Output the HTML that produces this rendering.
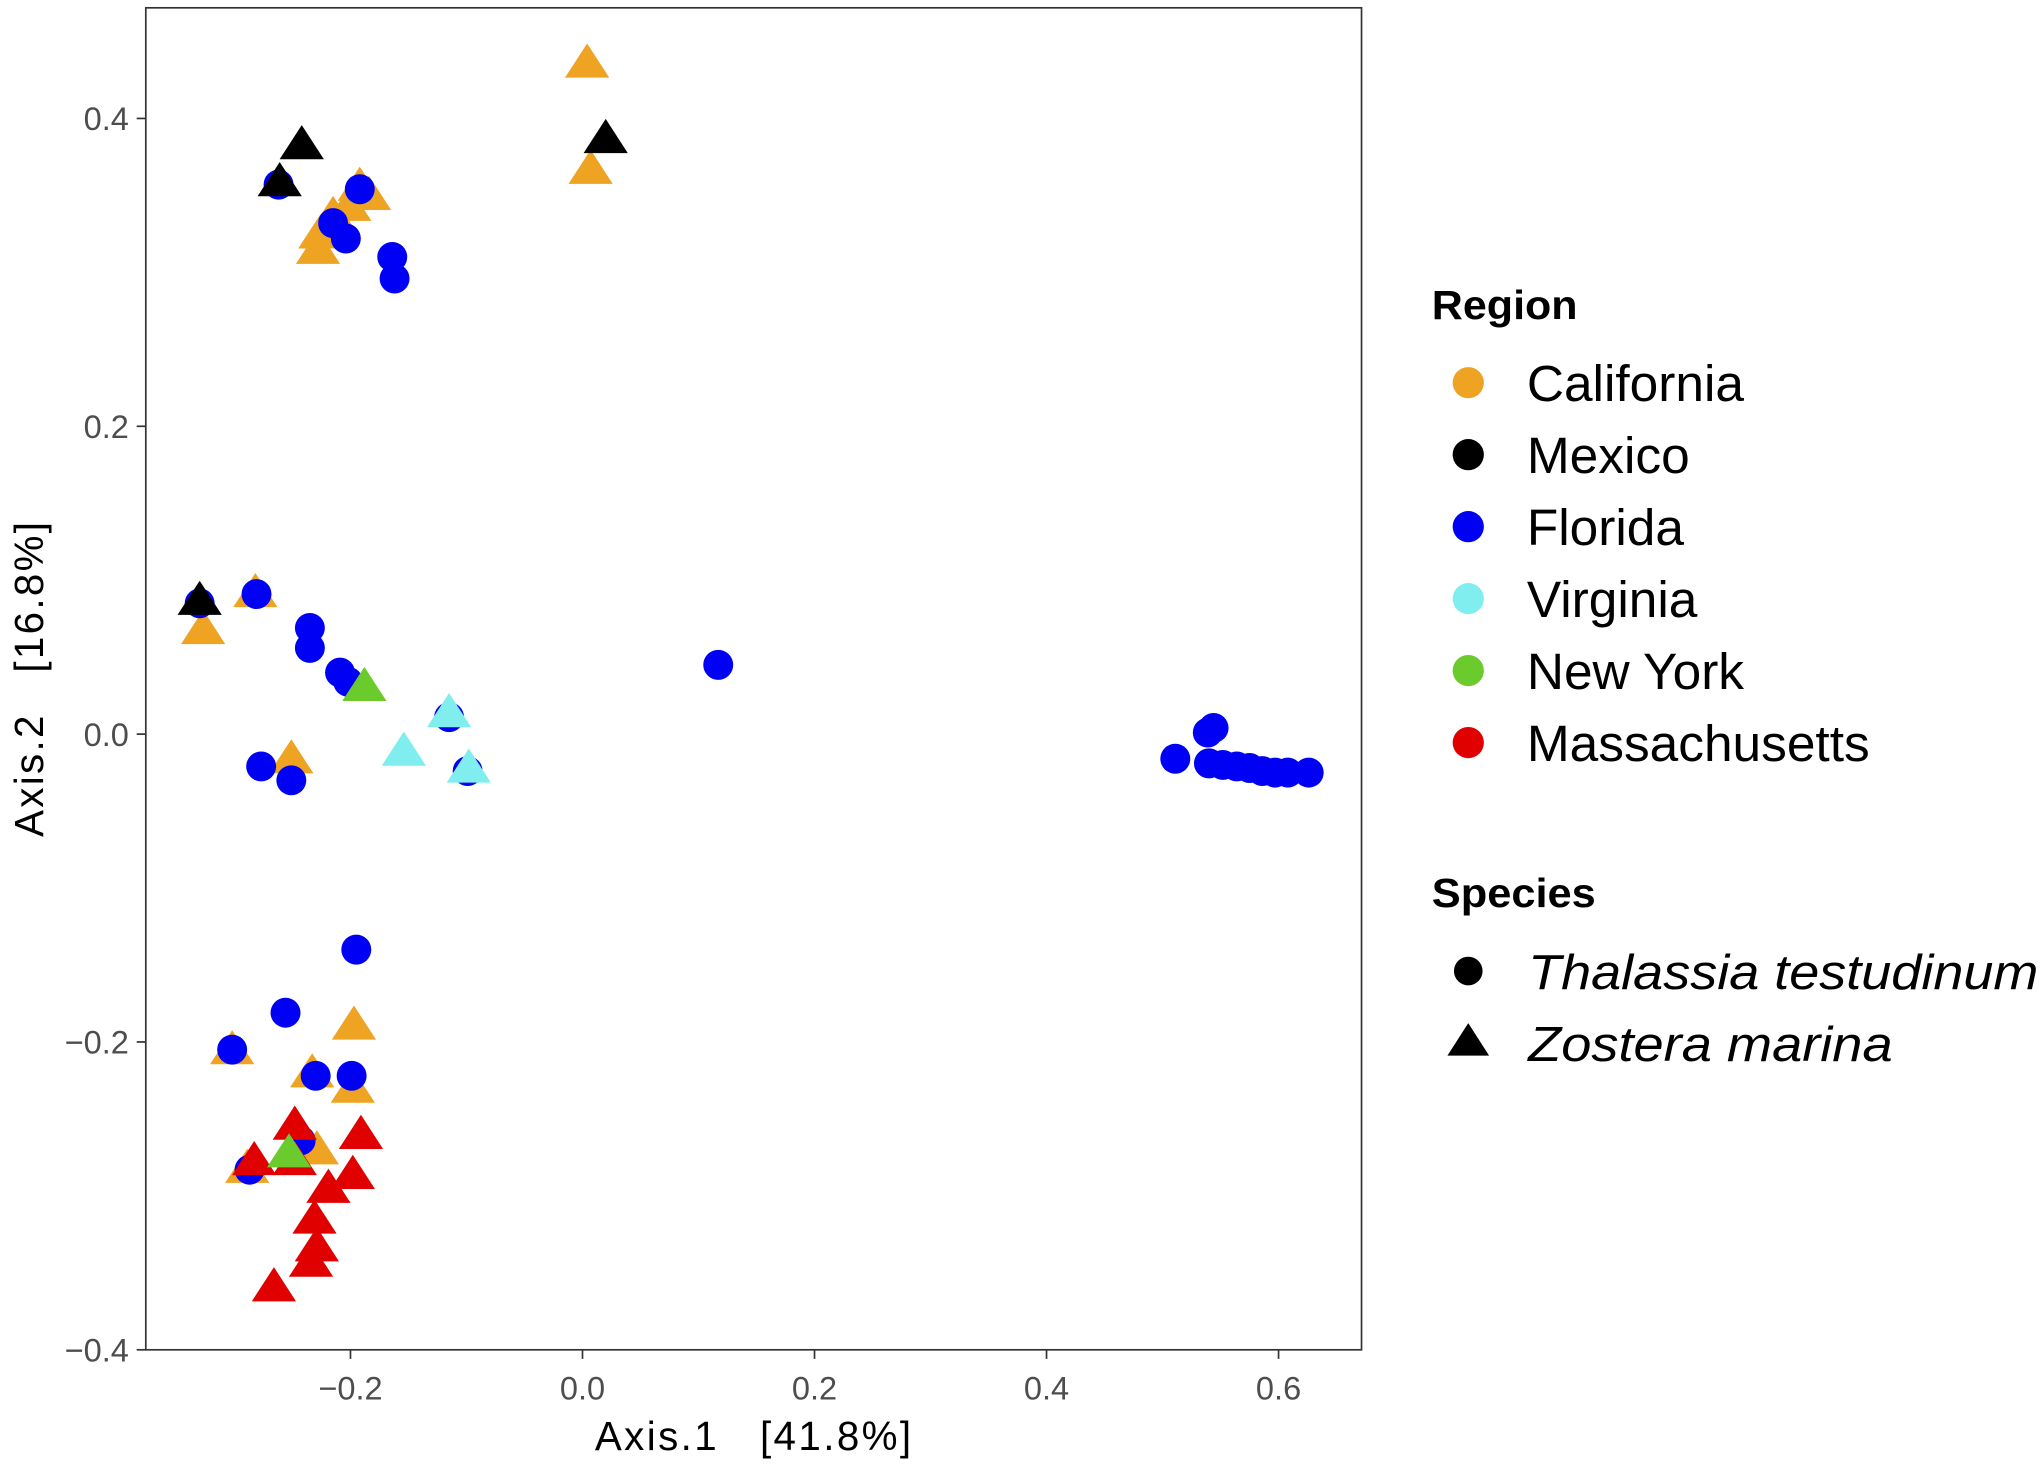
<!DOCTYPE html>
<html><head><meta charset="utf-8"><style>
html,body{margin:0;padding:0;background:#fff}
svg{display:block}
text{font-family:"Liberation Sans",sans-serif}
</style></head><body>
<svg id="chart" width="2041" height="1465" viewBox="0 0 1568 1125.5" xmlns="http://www.w3.org/2000/svg">
<rect x="112" y="6" width="934" height="1031" fill="#fff" stroke="#333" stroke-width="1.3"/>
<g id="marks"></g>
<g id="axes"></g>
<text x="457" y="1114" font-size="31" textLength="243" lengthAdjust="spacing">Axis.1&#160;&#160;&#160;[41.8%]</text>
<text transform="translate(33,643) rotate(-90)" font-size="31" textLength="242" lengthAdjust="spacing">Axis.2&#160;&#160;&#160;[16.8%]</text>
<g>
<text x="1100" y="245" font-size="31" font-weight="bold" textLength="112" lengthAdjust="spacingAndGlyphs">Region</text>
<g id="regleg"></g>
<text x="1100" y="697" font-size="31" font-weight="bold" textLength="126" lengthAdjust="spacingAndGlyphs">Species</text>
<circle cx="1128" cy="746" r="11" fill="#000"/>
<text x="1174" y="760" font-size="38" font-style="italic" textLength="392" lengthAdjust="spacingAndGlyphs">Thalassia testudinum</text>
<polygon points="1128,786 1144,811 1112,811" fill="#000"/>
<text x="1174" y="815" font-size="38" font-style="italic" textLength="280" lengthAdjust="spacingAndGlyphs">Zostera marina</text>
</g>
</svg>
<script>
const xTicks=[-0.2,0.0,0.2,0.4,0.6];
const xTickLabels=["\u22120.2","0.0","0.2","0.4","0.6"];
const yTicks=[0.4,0.2,0.0,-0.2,-0.4];
const yTickLabels=["0.4","0.2","0.0","\u22120.2","\u22120.4"];
const regions=["California","Mexico","Florida","Virginia","New York","Massachusetts"];
const regionColors=["#EFA322","#000000","#0000F5","#80EEEE","#6CCB2C","#E00000"];
const caX=[0.004,0.007,-0.192,-0.184,-0.201,-0.215,-0.226,-0.228,-0.327,-0.282,-0.251,-0.197,-0.198,-0.302,-0.233,-0.229,-0.289];
const caY=[0.436,0.367,0.356,0.350,0.343,0.337,0.325,0.315,0.068,0.092,-0.016,-0.189,-0.230,-0.205,-0.220,-0.270,-0.282];
const flX=[-0.262,-0.192,-0.215,-0.204,-0.164,-0.162,-0.330,-0.281,-0.235,-0.235,-0.209,-0.202,-0.115,-0.099,-0.277,-0.251,0.117,-0.195,-0.256,-0.302,-0.230,-0.199,-0.243,-0.287,0.511,0.539,0.544,0.540,0.552,0.564,0.575,0.586,0.597,0.608,0.626];
const flY=[0.357,0.354,0.332,0.322,0.310,0.296,0.085,0.091,0.069,0.056,0.040,0.034,0.011,-0.024,-0.021,-0.030,0.045,-0.140,-0.181,-0.205,-0.222,-0.222,-0.264,-0.283,-0.016,0.001,0.004,-0.019,-0.020,-0.021,-0.022,-0.024,-0.025,-0.025,-0.025];
const mxX=[-0.242,-0.261,0.020,-0.330];
const mxY=[0.383,0.359,0.387,0.087];
const vaX=[-0.115,-0.154,-0.098];
const vaY=[0.014,-0.011,-0.022];
const nyX=[-0.188,-0.253];
const nyY=[0.031,-0.272];
const maX=[-0.248,-0.191,-0.283,-0.248,-0.198,-0.219,-0.231,-0.229,-0.234,-0.266];
const maY=[-0.254,-0.260,-0.277,-0.277,-0.286,-0.295,-0.315,-0.333,-0.343,-0.359];

const NS="http://www.w3.org/2000/svg";
const sx=v=>447.5+v*891.25;
const sy=v=>564-v*1182.5;
const marks=document.getElementById('marks');
const axes=document.getElementById('axes');
function tri(x,y,c){const s=17,h=15;const p=document.createElementNS(NS,'polygon');
p.setAttribute('points',`${x},${y-h} ${x+s},${y+h*0.75} ${x-s},${y+h*0.75}`);p.setAttribute('fill',c);return p;}
function circ(x,y,c){const p=document.createElementNS(NS,'circle');p.setAttribute('cx',x);p.setAttribute('cy',y);p.setAttribute('r',11.5);p.setAttribute('fill',c);return p;}
function series(X,Y,col,shape,name){X.forEach((v,i)=>{const el=shape==='t'?tri(sx(v),sy(Y[i]),col):circ(sx(v),sy(Y[i]),col);


marks.appendChild(el);});}
series(caX,caY,regionColors[0],'t','point-california');
series(flX,flY,regionColors[2],'c','point-florida');
series(mxX,mxY,regionColors[1],'t','point-mexico');
series(vaX,vaY,regionColors[3],'t','point-virginia');
series(maX,maY,regionColors[5],'t','point-massachusetts');
series(nyX,nyY,regionColors[4],'t','point-new-york');
xTicks.forEach((v,i)=>{const l=document.createElementNS(NS,'line');
l.setAttribute('x1',sx(v));l.setAttribute('x2',sx(v));l.setAttribute('y1',1037);l.setAttribute('y2',1044);l.setAttribute('stroke','#333');l.setAttribute('stroke-width',1.3);


axes.appendChild(l);
const t=document.createElementNS(NS,'text');t.setAttribute('x',sx(v));t.setAttribute('y',1075);t.setAttribute('font-size',25);t.setAttribute('fill','#4d4d4d');t.setAttribute('text-anchor','middle');t.textContent=xTickLabels[i];


axes.appendChild(t);});
yTicks.forEach((v,i)=>{const l=document.createElementNS(NS,'line');
l.setAttribute('x1',105);l.setAttribute('x2',112);l.setAttribute('y1',sy(v));l.setAttribute('y2',sy(v));l.setAttribute('stroke','#333');l.setAttribute('stroke-width',1.3);


axes.appendChild(l);
const t=document.createElementNS(NS,'text');t.setAttribute('x',99);t.setAttribute('y',sy(v)+9);t.setAttribute('font-size',25);t.setAttribute('fill','#4d4d4d');t.setAttribute('text-anchor','end');t.textContent=yTickLabels[i];


axes.appendChild(t);});
const rl=document.getElementById('regleg');
regions.forEach((r,i)=>{const y=294+i*55.3;const c=circ(1128,y,regionColors[i]);c.setAttribute('r',12);


rl.appendChild(c);
const t=document.createElementNS(NS,'text');t.setAttribute('x',1173);t.setAttribute('y',y+14);t.setAttribute('font-size',39.5);t.textContent=r;


rl.appendChild(t);});
</script>
</body></html>
